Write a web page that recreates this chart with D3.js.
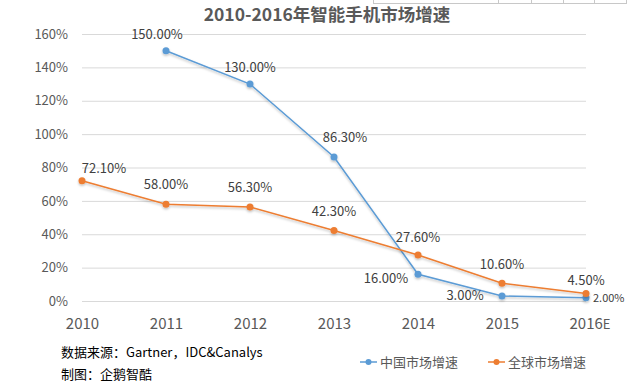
<!DOCTYPE html>
<html><head><meta charset="utf-8">
<script src="https://cdn.jsdelivr.net/npm/d3@7"></script>
<style>
body{margin:0;background:#fff;}
text{font-family:"Microsoft YaHei","Noto Sans CJK SC","DejaVu Sans",sans-serif;}
</style></head>
<body><svg id="c" width="636" height="390"></svg>
<script>
const years = ["2010","2011","2012","2013","2014","2015","2016"];
const chinaGrowth = [null,150.0,130.0,86.3,16.0,3.0,2.0];
const globalGrowth = [72.1,58.0,56.3,42.3,27.6,10.6,4.5];
const yTicks = [0,20,40,60,80,100,120,140,160];
const seriesNames = ["中国市场增速","全球市场增速"];
const title = "2010-2016年智能手机市场增速";

const svg = d3.select("#c");
const x = d3.scalePoint().domain(years).range([82,586]);
const y = d3.scaleLinear().domain([0,160]).range([301,34]);

const defs = svg.append("defs");
const f = defs.append("filter").attr("id","sh").attr("x","-5%").attr("y","-5%").attr("width","110%").attr("height","120%");
f.append("feDropShadow").attr("dx",0).attr("dy",1.5).attr("stdDeviation",1).attr("flood-color","#000").attr("flood-opacity",0.25);

// top table fragment
const tg = svg.append("g").attr("stroke","#c8c8c8").attr("fill","none");
tg.append("rect").attr("x",373.5).attr("y",-2).attr("width",253).attr("height",5.5);
[498,531,563,594].forEach(v=>tg.append("line").attr("x1",v+0.5).attr("x2",v+0.5).attr("y1",0).attr("y2",3.5));

// title
svg.append("text").attr("x",327).attr("y",21).attr("text-anchor","middle")
  .attr("font-size",17.5).attr("font-weight","bold").attr("fill","#595959").text(title);

// grid
const yAxis = d3.axisLeft(y).tickValues(yTicks).tickSize(-504).tickFormat(d=>d+"%");
const gy = svg.append("g").attr("transform","translate(82,0)").call(yAxis);
gy.select(".domain").remove();
gy.selectAll(".tick line").attr("stroke","#d9d9d9").attr("stroke-width",1);
gy.selectAll(".tick text").attr("x",-14).attr("font-size",13).attr("fill","#595959")
  .style("font-family","'Microsoft YaHei','Noto Sans CJK SC','DejaVu Sans',sans-serif");

const xAxis = d3.axisBottom(x).tickSize(0).tickFormat(d=>d);
const gx = svg.append("g").attr("transform","translate(0,301)").call(xAxis);
gx.select(".domain").remove();
gx.selectAll(".tick text").attr("dy",0).attr("y",28).attr("font-size",15).attr("fill","#595959")
  .style("font-family","'Microsoft YaHei','Noto Sans CJK SC','DejaVu Sans',sans-serif");
gx.selectAll(".tick").filter(d=>d==="2016").select("text").each(function(){
  d3.select(this).append("tspan").attr("font-size",13).text("E");
}).attr("text-anchor","start").attr("x",-17);

const colors = ["#5B9BD5","#ED7D31"];
const data = [chinaGrowth, globalGrowth];
const line = d3.line().defined(d=>d.v!=null).x(d=>x(d.k)).y(d=>y(d.v));
data.forEach((arr,i)=>{
  const pts = years.map((k,j)=>({k,v:arr[j]}));
  const g = svg.append("g").attr("filter","url(#sh)");
  g.append("path").datum(pts).attr("d",line).attr("fill","none").attr("stroke",colors[i]).attr("stroke-width",1.5);
  g.selectAll("circle").data(pts.filter(d=>d.v!=null)).enter().append("circle")
    .attr("cx",d=>x(d.k)).attr("cy",d=>y(d.v)).attr("r",3.5).attr("fill",colors[i]);
});

// labels
const chinaOff = [null,[-9,-12],[0,-12],[11,-15],[-32,9],[-37,4],[0,0]];
const globalOff = [[22,-8],[0,-15],[0,-15],[0,-14],[0,-13],[0,-14],[0,-8]];
const lg = svg.append("g").attr("font-size",13).attr("fill","#404040").attr("text-anchor","middle");
chinaGrowth.forEach((v,j)=>{
  if(v==null) return;
  const o = chinaOff[j];
  if(j===6){
    lg.append("text").attr("x",x(years[j])+7).attr("y",y(v)+4).attr("text-anchor","start").attr("font-size",11).text(v.toFixed(2)+"%");
  } else {
    lg.append("text").attr("x",x(years[j])+o[0]).attr("y",y(v)+o[1]).text(v.toFixed(2)+"%");
  }
});
globalGrowth.forEach((v,j)=>{
  const o = globalOff[j];
  lg.append("text").attr("x",x(years[j])+o[0]).attr("y",y(v)+o[1]).text(v.toFixed(2)+"%");
});

// source
svg.append("text").attr("x",61).attr("y",357).attr("font-size",13).attr("fill","#000").text("数据来源：Gartner，IDC&Canalys");
svg.append("text").attr("x",61).attr("y",379).attr("font-size",13).attr("fill","#000").text("制图：企鹅智酷");

// legend
const legX = [360,488];
seriesNames.forEach((n,i)=>{
  const g = svg.append("g").attr("transform",`translate(${legX[i]},362)`);
  g.append("line").attr("x1",0).attr("x2",17).attr("stroke",colors[i]).attr("stroke-width",1.5);
  g.append("circle").attr("cx",8.5).attr("r",3).attr("fill",colors[i]);
  g.append("text").attr("x",20).attr("y",5).attr("font-size",13).attr("fill","#595959").text(n);
});
</script></body></html>
